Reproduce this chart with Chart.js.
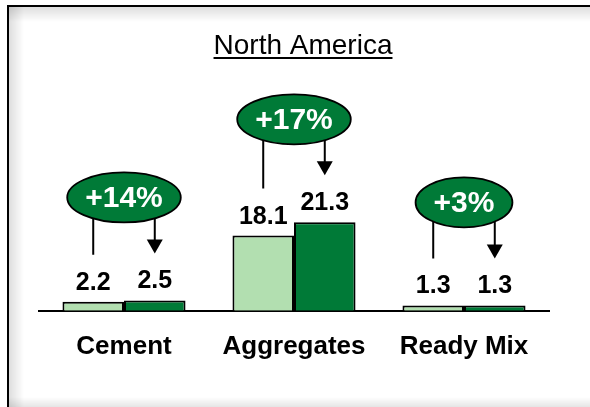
<!DOCTYPE html>
<html>
<head>
<meta charset="utf-8">
<script src="https://cdn.jsdelivr.net/npm/chart.js@4.4.1/dist/chart.umd.min.js"></script>
<style>
  html, body { margin: 0; padding: 0; background: #fff; overflow: hidden; }
  #wrap { position: relative; width: 590px; height: 407px; }
  canvas { display: block; }
</style>
</head>
<body>
<div id="wrap"><canvas id="canvas" width="590" height="407"></canvas></div>
<script>
const categories = ['Cement', 'Aggregates', 'Ready Mix'];
const prior = [2.2, 18.1, 1.3];
const current = [2.5, 21.3, 1.3];
const growth = ['+14%', '+17%', '+3%'];
const title = 'North America';

const LIGHT = '#b2dfb0';
const DARK = '#007a37';

// frame, title, value labels and growth bubbles
const decor = {
    id: 'decor',
    beforeDraw(chart) {
        const ctx = chart.ctx;
        ctx.save();
        // soft inner shadow along the frame
        let g = ctx.createLinearGradient(0, 7, 0, 22);
        g.addColorStop(0, 'rgba(0,0,0,0.13)');
        g.addColorStop(1, 'rgba(0,0,0,0)');
        ctx.fillStyle = g;
        ctx.fillRect(9, 7, 581, 15);
        g = ctx.createLinearGradient(9, 0, 24, 0);
        g.addColorStop(0, 'rgba(0,0,0,0.13)');
        g.addColorStop(1, 'rgba(0,0,0,0)');
        ctx.fillStyle = g;
        ctx.fillRect(9, 7, 15, 400);
        g = ctx.createLinearGradient(0, 407, 0, 397);
        g.addColorStop(0, 'rgba(0,0,0,0.1)');
        g.addColorStop(1, 'rgba(0,0,0,0)');
        ctx.fillStyle = g;
        ctx.fillRect(9, 397, 581, 10);

        ctx.strokeStyle = '#000';
        ctx.lineWidth = 2;
        ctx.beginPath();
        ctx.moveTo(8, 420);
        ctx.lineTo(8, 6);
        ctx.lineTo(600, 6);
        ctx.stroke();

        // title, underlined
        ctx.font = '28px Arial, "Liberation Sans", sans-serif';
        ctx.fillStyle = '#000';
        ctx.textAlign = 'center';
        ctx.textBaseline = 'alphabetic';
        const tx = 303, ty = 54;
        ctx.fillText(title, tx, ty);
        const w = ctx.measureText(title).width;
        ctx.fillRect(tx - w / 2, ty + 3, w, 2);
        ctx.restore();
    },
    afterDatasetsDraw(chart) {
        const ctx = chart.ctx;
        const m0 = chart.getDatasetMeta(0).data;
        const m1 = chart.getDatasetMeta(1).data;
        ctx.save();
        ctx.fillStyle = '#000';
        ctx.textAlign = 'center';
        ctx.textBaseline = 'alphabetic';
        ctx.font = 'bold 25px Arial, "Liberation Sans", sans-serif';
        const cap = 18;
        categories.forEach((c, i) => {
            const a = m0[i], b = m1[i];
            const ya = a.y - 12, yb = b.y - 12;
            ctx.fillText(String(prior[i]), a.x, ya);
            ctx.fillText(String(current[i]), b.x, yb);

            const topA = ya - cap, topB = yb - cap;
            const lineEndA = topA - 17, tipB = topB - 17;
            const ellBottom = Math.min(topA, topB) - 48;
            const ry = 25;
            const cy = ellBottom - ry;
            const cx = (a.x + b.x) / 2;

            // connectors
            ctx.strokeStyle = '#000';
            ctx.lineWidth = 2;
            ctx.beginPath();
            ctx.moveTo(a.x, cy);
            ctx.lineTo(a.x, lineEndA);
            ctx.moveTo(b.x, cy);
            ctx.lineTo(b.x, tipB - 12);
            ctx.stroke();
            ctx.beginPath();
            ctx.moveTo(b.x - 8, tipB - 14);
            ctx.lineTo(b.x + 8, tipB - 14);
            ctx.lineTo(b.x, tipB);
            ctx.closePath();
            ctx.fill();

            // bubble
            ctx.font = 'bold 30px Arial, "Liberation Sans", sans-serif';
            const tw = ctx.measureText(growth[i]).width;
            const rx = tw / 2 + 18;
            ctx.beginPath();
            ctx.ellipse(cx, cy, rx, ry, 0, 0, Math.PI * 2);
            ctx.fillStyle = DARK;
            ctx.fill();
            ctx.lineWidth = 1.8;
            ctx.strokeStyle = '#000';
            ctx.stroke();
            ctx.fillStyle = '#fff';
            ctx.textBaseline = 'middle';
            ctx.fillText(growth[i], cx, cy + 1);
            ctx.textBaseline = 'alphabetic';
            ctx.fillStyle = '#000';
            ctx.font = 'bold 25px Arial, "Liberation Sans", sans-serif';
        });
        ctx.restore();
    }
};

new Chart(document.getElementById('canvas'), {
    type: 'bar',
    data: {
        labels: categories,
        datasets: [
            { data: prior, backgroundColor: LIGHT, borderColor: '#000', borderWidth: 2 },
            { data: current, backgroundColor: DARK, borderColor: '#000', borderWidth: 2 }
        ]
    },
    options: {
        responsive: false,
        animation: false,
        layout: { padding: { top: 103, left: 39, right: 41, bottom: 25 } },
        datasets: { bar: { categoryPercentage: 0.724, barPercentage: 1.0 } },
        plugins: { legend: { display: false }, tooltip: { enabled: false }, title: { display: false } },
        scales: {
            x: {
                grid: { display: false, drawTicks: false },
                border: { display: true, color: '#000', width: 2 },
                ticks: {
                    color: '#000',
                    padding: 20,
                    maxRotation: 0,
                    autoSkip: false,
                    font: { family: 'Arial, "Liberation Sans", sans-serif', size: 26, weight: 'bold' }
                }
            },
            y: { display: false, min: 0, max: 50 }
        }
    },
    plugins: [decor]
});
</script>
</body>
</html>
